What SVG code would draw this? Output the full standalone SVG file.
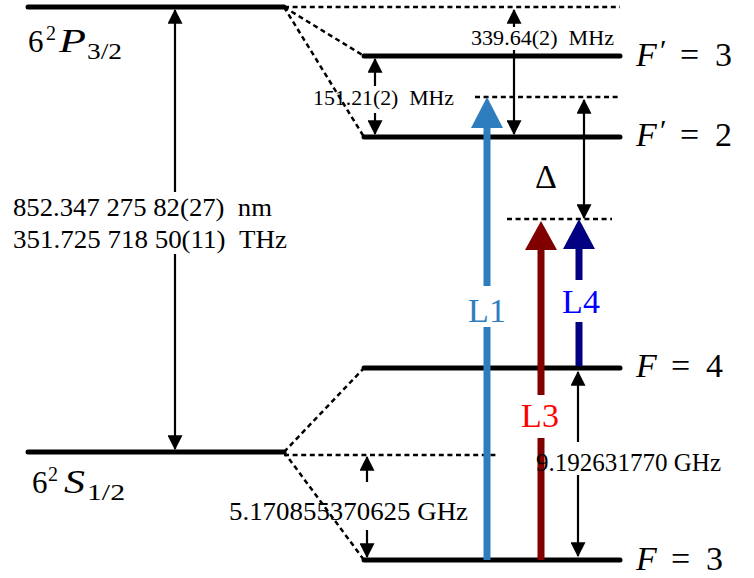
<svg xmlns="http://www.w3.org/2000/svg" width="754" height="578" viewBox="0 0 754 578">
<style>
.lvl{stroke:#000;stroke-width:5;stroke-linecap:round;fill:none}
.dash{stroke:#000;stroke-width:2.5;stroke-dasharray:5 3.6;fill:none}
.arr{stroke:#000;stroke-width:2.2;fill:none}
.t{font-family:"Liberation Serif","DejaVu Serif",serif;fill:#000}
.it{font-style:italic}
</style>
<defs>
<marker id="ah" markerUnits="userSpaceOnUse" markerWidth="15" markerHeight="15" viewBox="0 0 13 13" refX="12" refY="6.5" orient="auto-start-reverse">
<path d="M0,0 L13,6.5 L0,13 z" fill="#000"/>
</marker>
</defs>
<rect width="754" height="578" fill="#fff"/>
<g id="connectors">
<line class="dash" x1="284" y1="7" x2="620" y2="7"/>
<line class="dash" x1="284" y1="7" x2="364" y2="56"/>
<line class="dash" x1="284" y1="7" x2="364" y2="137"/>
<line class="dash" x1="475" y1="97" x2="620" y2="97"/>
<line class="dash" x1="507" y1="219" x2="612" y2="219"/>
<line class="dash" x1="284" y1="452" x2="364" y2="368"/>
<line class="dash" x1="284" y1="452" x2="364" y2="560"/>
<line class="dash" x1="284" y1="455" x2="498" y2="455"/>
<line class="arr" x1="175" y1="10" x2="175" y2="192" marker-start="url(#ah)"/>
<line class="arr" x1="175" y1="254" x2="175" y2="449" marker-end="url(#ah)"/>
<line class="arr" x1="375" y1="59" x2="375" y2="86" marker-start="url(#ah)"/>
<line class="arr" x1="375" y1="113" x2="375" y2="134" marker-end="url(#ah)"/>
<line class="arr" x1="514" y1="10" x2="514" y2="27" marker-start="url(#ah)"/>
<line class="arr" x1="514" y1="50" x2="514" y2="134" marker-end="url(#ah)"/>
<line class="arr" x1="584" y1="100" x2="584" y2="218" marker-start="url(#ah)" marker-end="url(#ah)"/>
<line class="arr" x1="578" y1="372" x2="578" y2="442" marker-start="url(#ah)"/>
<line class="arr" x1="578" y1="475" x2="578" y2="556" marker-end="url(#ah)"/>
<line class="arr" x1="367" y1="457" x2="367" y2="482" marker-start="url(#ah)"/>
<line class="arr" x1="367" y1="530" x2="367" y2="557" marker-end="url(#ah)"/>
</g>
<g id="levels">
<line id="P32" class="lvl" x1="28" y1="7" x2="284" y2="7"/>
<line id="Fp3" class="lvl" x1="364" y1="56" x2="620" y2="56"/>
<line id="Fp2" class="lvl" x1="364" y1="137" x2="620" y2="137"/>
<line id="F4" class="lvl" x1="364" y1="368" x2="620" y2="368"/>
<line id="S12" class="lvl" x1="28" y1="452" x2="284" y2="452"/>
<line id="F3" class="lvl" x1="364" y1="560" x2="620" y2="560"/>
</g>
<g id="lasers">
<g id="L1">
<line x1="487" y1="560" x2="487" y2="327" stroke="#2e7ebf" stroke-width="7"/>
<line x1="487" y1="286" x2="487" y2="126" stroke="#2e7ebf" stroke-width="7"/>
<polygon points="471,128 503,128 487,97" fill="#2e7ebf"/>
<text class="t" x="487" y="322" font-size="34" text-anchor="middle" style="fill:#2e7ebf">L1</text>
</g>
<g id="L3">
<line x1="541" y1="560" x2="541" y2="438" stroke="#800000" stroke-width="7"/>
<line x1="541" y1="395" x2="541" y2="247" stroke="#800000" stroke-width="7"/>
<polygon points="525,250 557,250 541,221" fill="#800000"/>
<text class="t" x="540" y="427" font-size="34" text-anchor="middle" style="fill:#ff0000">L3</text>
</g>
<g id="L4">
<line x1="579" y1="366" x2="579" y2="322" stroke="#000080" stroke-width="7"/>
<line x1="579" y1="280" x2="579" y2="246" stroke="#000080" stroke-width="7"/>
<polygon points="563,249 595,249 579,219" fill="#000080"/>
<text class="t" x="581" y="313" font-size="34" text-anchor="middle" style="fill:#0000ff">L4</text>
</g>
</g>
<g id="labels">
<text class="t" font-size="31"><tspan x="28" y="52">6</tspan><tspan x="46" y="40" font-size="20">2</tspan><tspan class="it" x="59" y="52" font-size="33" textLength="27" lengthAdjust="spacingAndGlyphs">P</tspan><tspan x="87" y="59" font-size="23" textLength="35" lengthAdjust="spacingAndGlyphs">3/2</tspan></text>
<text class="t" font-size="31"><tspan x="32" y="493">6</tspan><tspan x="48" y="481" font-size="20">2</tspan><tspan class="it" x="64" y="493" font-size="33" textLength="21" lengthAdjust="spacingAndGlyphs">S</tspan><tspan x="87" y="500" font-size="23" textLength="38" lengthAdjust="spacingAndGlyphs">1/2</tspan></text>
<text class="t" font-size="26" x="13" y="216" textLength="259" lengthAdjust="spacingAndGlyphs">852.347 275 82(27)&#160;&#160;nm</text>
<text class="t" font-size="26" x="13" y="248" textLength="274" lengthAdjust="spacingAndGlyphs">351.725 718 50(11)&#160;&#160;THz</text>
<text class="t" font-size="21" x="313" y="105" textLength="141" lengthAdjust="spacingAndGlyphs">151.21(2)&#160;&#160;MHz</text>
<text class="t" font-size="21" x="471" y="45" textLength="143" lengthAdjust="spacingAndGlyphs">339.64(2)&#160;&#160;MHz</text>
<text class="t" font-size="26" x="229" y="520" textLength="239" lengthAdjust="spacingAndGlyphs">5.170855370625 GHz</text>
<text class="t" font-size="26" x="536" y="471" textLength="185" lengthAdjust="spacingAndGlyphs">9.192631770 GHz</text>
<text class="t" font-size="34" x="535" y="188">Δ</text>
<text class="t" font-size="34"><tspan class="it" x="636" y="66">F</tspan><tspan x="660" y="60" font-size="30">′</tspan><tspan x="680" y="66">=</tspan><tspan x="715" y="66">3</tspan></text>
<text class="t" font-size="34"><tspan class="it" x="636" y="146">F</tspan><tspan x="660" y="140" font-size="30">′</tspan><tspan x="680" y="146">=</tspan><tspan x="715" y="146">2</tspan></text>
<text class="t" font-size="34"><tspan class="it" x="636" y="377">F</tspan><tspan x="671" y="377">=</tspan><tspan x="706" y="377">4</tspan></text>
<text class="t" font-size="34"><tspan class="it" x="636" y="570">F</tspan><tspan x="671" y="570">=</tspan><tspan x="706" y="570">3</tspan></text>
</g>
</svg>
